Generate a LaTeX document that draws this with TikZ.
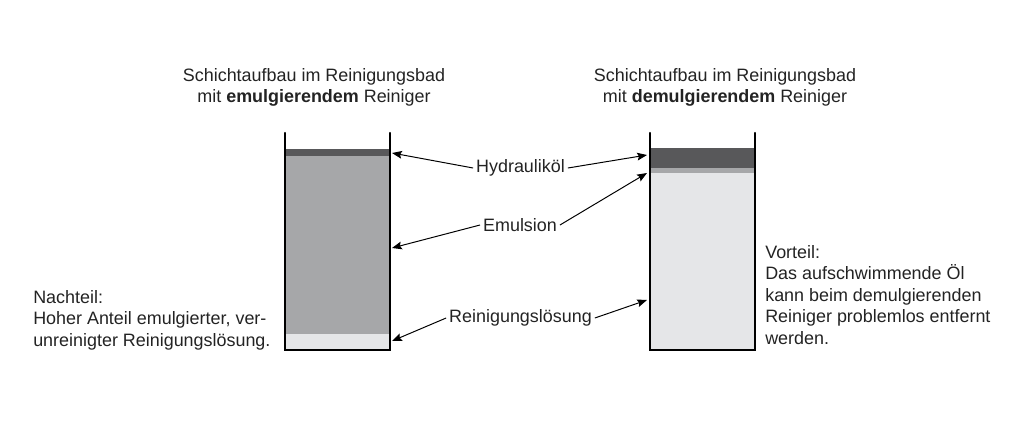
\documentclass[tikz,border=0pt]{standalone}
\usepackage{fontspec}
\setmainfont{Liberation Sans}
\usetikzlibrary{arrows.meta}
\definecolor{oel}{RGB}{88,88,90}
\definecolor{emul}{RGB}{166,167,169}
\definecolor{loes}{RGB}{229,230,232}
\definecolor{schrift}{RGB}{35,35,35}

\begin{document}
\begin{tikzpicture}[x=0.025cm,y=-0.025cm,
   txt/.style={inner sep=0pt,text=schrift,font=\fontsize{12.75}{15.3}\selectfont},
   lbl/.style={txt,inner sep=2pt},
   wand/.style={line width=1.5pt,line cap=round},
   pfeil/.style={line width=0.7pt,-{Stealth[length=7pt,width=5.5pt,inset=1.2pt]}}]
   \useasboundingbox (0,0) rectangle (1024,427);

   % Becken links: emulgierender Reiniger
   \fill[loes] (285,334) rectangle (390,350);
   \fill[emul] (285,156) rectangle (390,334);
   \fill[oel]  (285,149) rectangle (390,156);
   \draw[wand] (285,133) -- (285,350) -- (390,350) -- (390,133);

   % Becken rechts: demulgierender Reiniger
   \fill[loes] (650,173) rectangle (755,350);
   \fill[emul] (650,168) rectangle (755,173);
   \fill[oel]  (650,148) rectangle (755,168);
   \draw[wand] (650,133) -- (650,350) -- (755,350) -- (755,133);

   % Ueberschriften
   \node[txt,align=center,anchor=north] (titelA) at (314,68)
      {Schichtaufbau im Reinigungsbad\\mit \textbf{emulgierendem} Reiniger};
   \node[txt,align=center,anchor=north] (titelB) at (725,68)
      {Schichtaufbau im Reinigungsbad\\mit \textbf{demulgierendem} Reiniger};

   % Bewertung
   \node[txt,align=left,anchor=north west] (nachteil) at (33,290)
      {Nachteil:\\Hoher Anteil emulgierter, ver-\\unreinigter Reinigungslösung.};
   \node[txt,align=left,anchor=north west] (vorteil) at (765,245)
      {Vorteil:\\Das aufschwimmende Öl\\kann beim demulgierenden\\Reiniger problemlos entfernt\\werden.};

   % Schichten beschriften
   \node[lbl] (hydr) at (520.5,168) {Hydrauliköl};
   \node[lbl] (emuls) at (520,225) {Emulsion};
   \node[lbl] (reinl) at (520.5,318) {Reinigungslösung};

   \coordinate (oelA) at (392,153);
   \coordinate (oelB) at (647,155);
   \coordinate (emA) at (392,248);
   \coordinate (emB) at (647,173);
   \coordinate (loA) at (392,341);
   \coordinate (loB) at (647,300);

   \draw[pfeil] (hydr.west) -- (oelA);
   \draw[pfeil] (hydr.east) -- (oelB);
   \draw[pfeil] (emuls.west) -- (emA);
   \draw[pfeil] (emuls.east) -- (emB);
   \draw[pfeil] (reinl.west) -- (loA);
   \draw[pfeil] (reinl.east) -- (loB);
\end{tikzpicture}
\end{document}
